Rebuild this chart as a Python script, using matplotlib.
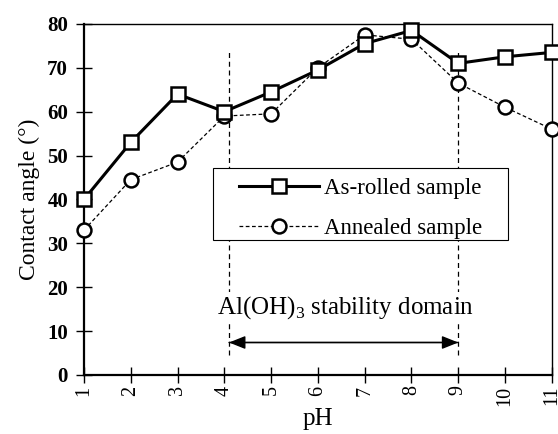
import matplotlib.pyplot as plt
import numpy as np
from matplotlib.patches import Rectangle

plt.rcParams['font.family'] = ['Liberation Serif', 'DejaVu Serif']
plt.rcParams['mathtext.fontset'] = 'custom'
plt.rcParams['mathtext.rm'] = 'Liberation Serif'

ph = np.arange(1, 12)
as_rolled = [40, 53, 64, 60, 64.5, 69.5, 75.5, 78.5, 71, 72.5, 73.5]
annealed = [33, 44.5, 48.5, 59, 59.5, 70, 77.5, 76.5, 66.5, 61, 56]
domain = [4.1, 9.0]

fig = plt.figure(figsize=(5.58, 4.34), dpi=100)
ax = fig.add_axes([0.1505, 0.136, 0.8385, 0.809])

# stability domain boundaries
for xv in domain:
    ax.plot([xv, xv], [4.5, 74], color='black', lw=0.9, ls=(0, (4, 3)), zorder=1)

ax.plot(ph, as_rolled, '-s', color='black', lw=2.2, ms=10, mfc='white',
        mew=1.8, label='As-rolled sample', zorder=4, clip_on=False)
ax.plot(ph, annealed, '--o', color='black', lw=0.9, dashes=(3, 2), ms=10,
        mfc='white', mew=1.8, label='Annealed sample', zorder=3, clip_on=False)

for a, b in [(domain[0], domain[1]), (domain[1], domain[0])]:
    ax.annotate('', xy=(b, 7.4), xytext=(a, 7.4),
                arrowprops=dict(arrowstyle='-|>,head_length=1.0,head_width=0.4',
                                color='black', lw=1.0, shrinkA=0, shrinkB=0))
ax.text(6.6, 15.4, r'Al(OH)$_\mathrm{3}$ stability domain', ha='center',
        va='center', fontsize=18, bbox=dict(fc='white', ec='none', pad=1),
        zorder=2)

# legend box drawn separately so the entries can sit centred inside it
box = Rectangle((0.276, 0.385), 0.63, 0.205, transform=ax.transAxes,
                fc='white', ec='black', lw=0.8, zorder=5)
ax.add_patch(box)
leg = ax.legend(loc='center', bbox_to_anchor=(0.591, 0.474), fontsize=16.5,
                frameon=False, handlelength=3.5, handletextpad=0.22,
                borderpad=0, borderaxespad=0, labelspacing=0.8)
leg.set_zorder(6)

ax.set_xlim(1, 11)
ax.set_ylim(0, 80)
ax.set_xticks(ph)
ax.set_yticks(np.arange(0, 81, 10))
ax.tick_params(axis='x', direction='inout', length=11, width=1, labelsize=14.5,
               labelrotation=90, pad=2)
ax.tick_params(axis='y', direction='inout', length=11, width=1, labelsize=15,
               pad=6)
for lbl in ax.get_yticklabels():
    lbl.set_fontweight('bold')
for sp in ax.spines.values():
    sp.set_linewidth(1.0)
ax.spines['left'].set_linewidth(1.6)
ax.spines['bottom'].set_linewidth(1.6)

ax.set_xlabel('pH', fontsize=18, labelpad=2)
ax.set_ylabel('Contact angle (°)', fontsize=17, labelpad=5)

fig.savefig('out.png', dpi=100)
